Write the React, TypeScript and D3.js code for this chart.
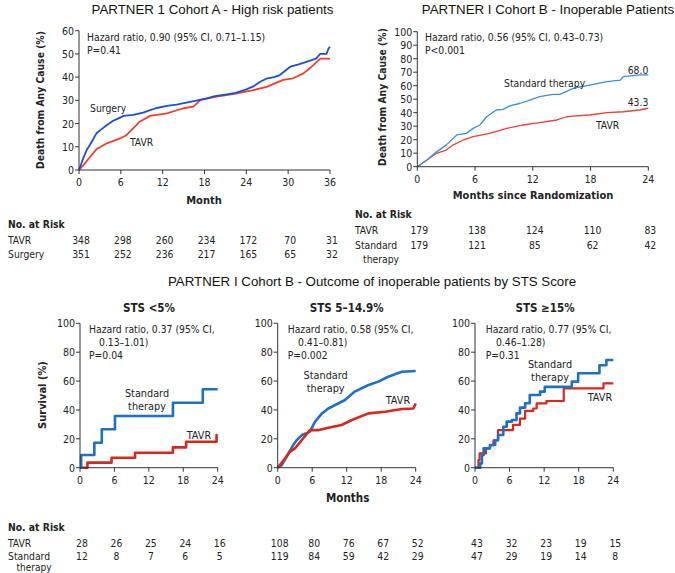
import React from 'react';
import * as d3 from 'd3';

const W = 675, H = 573;
const NARROW = "'DejaVu Sans Condensed','Liberation Sans Narrow',sans-serif";
const ARIAL = "'Liberation Sans',Arial,sans-serif";
const BODY = 10.3;

// ---------- Cohort A (high risk) ----------
const aSurgT = [0,0.3,0.6,1.1,1.6,2.5,3.2,4,4.9,5.5,6.4,7.8,9.2,10.2,11,12.6,14,15.4,17,18.3,19.5,21.2,22.5,24,25,26,27,28,28.8,30.3,31.5,32.6,34,34.6,35.5,35.8,36];
const aSurgV = [0,2.5,5,8.6,11,15.8,17.5,19.4,21.2,22,23.3,23.7,24.7,25.8,26.6,27.6,28.2,29,30,30.9,31.8,32.6,33.2,34.7,36,38,39.5,40,40.9,44.5,45.5,46.6,48,50,50,52.4,53];
const aTavrT = [0,0.6,1.6,2.5,4,5.9,6.8,7.8,8.7,10.2,12.6,15,16.4,17.4,19.7,22.1,25,27,29.3,30.7,32.2,33.1,34.1,34.6,36];
const aTavrV = [0,2,5.7,8.9,11.5,13.6,15,18,20.8,23.3,24.4,26.6,27.3,30.1,31.6,32.7,34.4,35.9,38.8,39.5,41.6,43.8,46.6,48,48];
const aMonths = [0,6,12,18,24,30,36];
const aYTicks = [0,10,20,30,40,50,60];
const aRiskTavr = [348,298,260,234,172,70,31];
const aRiskSurg = [351,252,236,217,165,65,32];

// ---------- Cohort B (inoperable) ----------
const bStdT = [0,1,2,3,4.1,5.1,5.8,6.5,7.2,8.2,8.9,9.6,10.7,11.7,12.7,14.1,14.8,16.2,17.9,19.7,21.1,21.4,23.1,24];
const bStdV = [0,5,11,16,23.5,24.7,28.4,30.9,37,42,42.5,45,47,49.4,51.9,53.6,53.6,58,60.5,63,64.2,66.7,68,68];
const bTavrT = [0,1,2,3,3.7,4.8,5.8,7.5,9.3,11,12.7,14.5,15.5,16.2,17.9,19.7,21.4,23.1,24];
const bTavrV = [0,5,9.9,12.3,16,19.8,22.2,24.7,28.4,30.9,32.6,34.6,37,37.5,38.3,40,40.7,42,43.3];
const bMonths = [0,6,12,18,24];
const bYTicks = [0,10,20,30,40,50,60,70,80,90,100];
const bRiskTavr = [179,138,124,110,83];
const bRiskStd = [179,121,85,62,42];

// ---------- STS groups ----------
const stsMonths = [0,6,12,18,24];
const stsYTicks = [0,20,40,60,80,100];
const lowStdT = [0,0.2,2.5,3.8,6.1,16.2,21.4,24];
const lowStdV = [0,8.8,17.3,26.6,35.8,45,54.3,54.3];
const lowTavrT = [0,1.3,5.5,9.6,16.2,18.5,23.8,24];
const lowTavrV = [0,3.5,6.9,10.4,14.1,18,22.6,22.6];
const midStdT = [0,0.7,1.9,2.7,3.3,4.2,5,5.6,6.5,7.7,8.8,10,11.7,13.4,14.6,15.8,17.5,19.2,21.6,24];
const midStdV = [0,1.8,10,15.7,19,22.6,23.8,25,31.9,37.6,41,43.4,46.9,52.7,55,57.3,59.6,63,66.5,67];
const midTavrT = [0,1.3,2.1,3,4.2,5.6,7,8.8,11.1,12.9,15.8,18.7,21.6,23.6,24];
const midTavrV = [0,6.5,11,13.4,19.2,26,26,27.7,29.6,33,37.6,38.8,40.6,41,44.5];
const highStdT = [0,0.9,1.2,1.5,2.6,3.5,4,4.9,5.5,6.4,7.2,7.8,8.7,9.5,11.3,12.1,16.8,17.9,21.6,22.8,24];
const highStdV = [0,3,8.8,13.4,15.7,19,22.6,28.4,31.9,33,37.6,41.6,44.6,50.3,52.7,56,59.6,65.4,71,74.6,74.6];
const highTavrT = [0,0.6,0.8,1.9,2.6,3.2,4,6.6,7.8,8.7,10.1,10.7,12.4,15.4,22.3,24];
const highTavrV = [0,5.3,9.9,13.4,15.7,19,26,29.6,34,39.3,41,44.6,46.2,55,58.4,58.4];
const lowRiskTavr = [28,26,25,24,16];
const lowRiskStd = [12,8,7,6,5];
const midRiskTavr = [108,80,76,67,52];
const midRiskStd = [119,84,59,42,29];
const highRiskTavr = [43,32,23,19,15];
const highRiskStd = [47,29,19,14,8];

type Series = { t: number[]; v: number[]; color: string; width: number; step?: boolean };

function Panel(props: {
  left: number; right: number; top: number; bottom: number;
  xMax: number; yMax: number; xTicks: number[]; yTicks: number[];
  series: Series[]; fs?: number;
}) {
  const { left, right, top, bottom, xMax, yMax, xTicks, yTicks, series } = props;
  const fs = props.fs ?? 10.5;
  const x = d3.scaleLinear().domain([0, xMax]).range([left, right]);
  const y = d3.scaleLinear().domain([0, yMax]).range([bottom, top]);
  const axisColor = '#333';
  return (
    <g>
      {series.map((s, i) => {
        const line = d3.line<number>().x((_, j) => x(s.t[j])).y((d) => y(d))
          .curve(s.step ? d3.curveStepAfter : d3.curveLinear);
        return <path key={i} d={line(s.v) || ''} fill="none" stroke={s.color} strokeWidth={s.width} strokeLinejoin="round" />;
      })}
      <line x1={left} x2={left} y1={top} y2={bottom} stroke={axisColor} strokeWidth={1} />
      <line x1={left} x2={right} y1={bottom} y2={bottom} stroke={axisColor} strokeWidth={1} />
      {yTicks.map((t) => (
        <g key={'y' + t}>
          <line x1={left - 4} x2={left} y1={y(t)} y2={y(t)} stroke={axisColor} />
          <text x={left - 5} y={y(t)} textAnchor="end" dominantBaseline="central" fontSize={fs} fontFamily={NARROW} fill="#222">{t}</text>
        </g>
      ))}
      {xTicks.map((t) => (
        <g key={'x' + t}>
          <line x1={x(t)} x2={x(t)} y1={bottom} y2={bottom + 4} stroke={axisColor} />
          <text x={x(t)} y={bottom + 12} textAnchor="middle" dominantBaseline="central" fontSize={fs} fontFamily={NARROW} fill="#222">{t}</text>
        </g>
      ))}
    </g>
  );
}

function T(props: { x: number; y: number; children: React.ReactNode; anchor?: string; size?: number; bold?: boolean; family?: string; color?: string; rotate?: boolean }) {
  const { x, y, anchor = 'start', size = BODY, bold = false, family = NARROW, color = '#222', rotate = false } = props;
  return (
    <text x={x} y={y} textAnchor={anchor as any} dominantBaseline="central" fontSize={size}
      fontWeight={bold ? 'bold' : 'normal'} fontFamily={family} fill={color}
      transform={rotate ? `rotate(-90 ${x} ${y})` : undefined}>{props.children}</text>
  );
}

function RiskRow(props: { values: number[]; months: number[]; left: number; right: number; xMax: number; y: number }) {
  const x = d3.scaleLinear().domain([0, props.xMax]).range([props.left, props.right]);
  return (
    <g>
      {props.values.map((v, i) => (
        <T key={i} x={x(props.months[i]) + 2} y={props.y} anchor="middle">{v}</T>
      ))}
    </g>
  );
}

const BLUE_A = '#1d4fd6';
const RED_A = '#f0402c';
const BLUE_B = '#3b8fd6';
const RED_B = '#e8403c';
const BLUE_S = '#1f6fc3';
const RED_S = '#d8281e';
const TITLE = 13.3;

export default function App() {
  const tl = { left: 79, right: 330, top: 30.7, bottom: 170 };
  const tr = { left: 417.3, right: 648.3, top: 31.7, bottom: 166.7 };
  const bTop = 323.3, bBot = 467.7;
  const bl = { left: 80, right: 217.7 };
  const bm = { left: 277.7, right: 415.7 };
  const br = { left: 475, right: 613.3 };
  return (
    <svg width={W} height={H} style={{ position: 'absolute', left: 0, top: 0, background: '#fff' }}>
      <rect x={0} y={0} width={W} height={H} fill="#fff" />
      {/* Titles */}
      <T x={212.5} y={9} anchor="middle" size={TITLE} family={ARIAL} color="#111">PARTNER 1 Cohort A - High risk patients</T>
      <T x={548} y={9} anchor="middle" size={TITLE} family={ARIAL} color="#111">PARTNER I Cohort B - Inoperable Patients</T>
      <T x={372} y={281} anchor="middle" size={TITLE} family={ARIAL} color="#111">PARTNER I Cohort B - Outcome of inoperable patients by STS Score</T>

      {/* Top-left */}
      <Panel {...tl} xMax={36} yMax={60} xTicks={aMonths} yTicks={aYTicks}
        series={[
          { t: aTavrT, v: aTavrV, color: RED_A, width: 1.8 },
          { t: aSurgT, v: aSurgV, color: BLUE_A, width: 1.8 },
        ]} />
      <T x={87} y={37}>Hazard ratio, 0.90 (95% CI, 0.71–1.15)</T>
      <T x={87} y={50}>P=0.41</T>
      <T x={90} y={108}>Surgery</T>
      <T x={130} y={142}>TAVR</T>
      <T x={40} y={100} bold anchor="middle" rotate>Death from Any Cause (%)</T>
      <T x={204} y={200} size={11} bold anchor="middle">Month</T>

      {/* Top-right */}
      <Panel {...tr} xMax={24} yMax={100} xTicks={bMonths} yTicks={bYTicks}
        series={[
          { t: bTavrT, v: bTavrV, color: RED_B, width: 1.3 },
          { t: bStdT, v: bStdV, color: BLUE_B, width: 1.3 },
        ]} />
      <T x={425} y={37}>Hazard ratio, 0.56 (95% CI, 0.43–0.73)</T>
      <T x={425} y={50}>P&lt;0.001</T>
      <T x={504} y={83}>Standard therapy</T>
      <T x={596} y={125}>TAVR</T>
      <T x={638} y={70} anchor="middle">68.0</T>
      <T x={638} y={102} anchor="middle">43.3</T>
      <T x={382} y={97} bold anchor="middle" rotate>Death from Any Cause (%)</T>
      <T x={533} y={195} size={11} bold anchor="middle">Months since Randomization</T>

      {/* Top risk tables */}
      <T x={8} y={224} bold>No. at Risk</T>
      <T x={8} y={240}>TAVR</T>
      <T x={8} y={254}>Surgery</T>
      <RiskRow values={aRiskTavr} months={aMonths} left={tl.left} right={tl.right} xMax={36} y={240} />
      <RiskRow values={aRiskSurg} months={aMonths} left={tl.left} right={tl.right} xMax={36} y={254} />

      <T x={355} y={214} bold>No. at Risk</T>
      <T x={355} y={229.5}>TAVR</T>
      <T x={355} y={244.6}>Standard</T>
      <T x={363} y={259}>therapy</T>
      <RiskRow values={bRiskTavr} months={bMonths} left={tr.left} right={tr.right} xMax={24} y={229.5} />
      <RiskRow values={bRiskStd} months={bMonths} left={tr.left} right={tr.right} xMax={24} y={244.6} />

      {/* Bottom panels */}
      <Panel {...bl} top={bTop} bottom={bBot} xMax={24} yMax={100} xTicks={stsMonths} yTicks={stsYTicks}
        series={[
          { t: lowTavrT, v: lowTavrV, color: RED_S, width: 2.6, step: true },
          { t: lowStdT, v: lowStdV, color: BLUE_S, width: 2.6, step: true },
        ]} />
      <T x={149} y={308} size={11.5} bold anchor="middle">STS &lt;5%</T>
      <T x={89} y={329}>Hazard ratio, 0.37 (95% CI,</T>
      <T x={99} y={342}>0.13–1.01)</T>
      <T x={89} y={355}>P=0.04</T>
      <T x={147} y={393} anchor="middle" size={10.8}>Standard</T>
      <T x={147} y={406} anchor="middle" size={10.8}>therapy</T>
      <T x={199} y={435} anchor="middle" size={10.8}>TAVR</T>
      <T x={42} y={395} size={11} bold anchor="middle" rotate>Survival (%)</T>

      <Panel {...bm} top={bTop} bottom={bBot} xMax={24} yMax={100} xTicks={stsMonths} yTicks={stsYTicks}
        series={[
          { t: midStdT, v: midStdV, color: BLUE_S, width: 2.6 },
          { t: midTavrT, v: midTavrV, color: RED_S, width: 2.6 },
        ]} />
      <T x={346.7} y={308} size={11.5} bold anchor="middle">STS 5–14.9%</T>
      <T x={287.7} y={329}>Hazard ratio, 0.58 (95% CI,</T>
      <T x={298} y={342}>0.41–0.81)</T>
      <T x={287.7} y={355}>P=0.002</T>
      <T x={325.7} y={375} anchor="middle" size={10.8}>Standard</T>
      <T x={325.7} y={388} anchor="middle" size={10.8}>therapy</T>
      <T x={398} y={400} anchor="middle" size={10.8}>TAVR</T>
      <T x={347.7} y={498} size={11.5} bold anchor="middle">Months</T>

      <Panel {...br} top={bTop} bottom={bBot} xMax={24} yMax={100} xTicks={stsMonths} yTicks={stsYTicks}
        series={[
          { t: highTavrT, v: highTavrV, color: RED_S, width: 2.2, step: true },
          { t: highStdT, v: highStdV, color: BLUE_S, width: 2.6, step: true },
        ]} />
      <T x={545} y={308} size={11.5} bold anchor="middle">STS ≥15%</T>
      <T x={485.7} y={329}>Hazard ratio, 0.77 (95% CI,</T>
      <T x={496} y={342}>0.46–1.28)</T>
      <T x={485.7} y={355}>P=0.31</T>
      <T x={550} y={364} anchor="middle" size={10.8}>Standard</T>
      <T x={550} y={377} anchor="middle" size={10.8}>therapy</T>
      <T x={600} y={397} anchor="middle" size={10.8}>TAVR</T>

      {/* Bottom risk table */}
      <T x={8} y={527} bold>No. at Risk</T>
      <T x={8} y={543}>TAVR</T>
      <T x={8} y={555.5}>Standard</T>
      <T x={16.5} y={567.5} size={10}>therapy</T>
      <RiskRow values={lowRiskTavr} months={stsMonths} left={bl.left} right={bl.right} xMax={24} y={543} />
      <RiskRow values={lowRiskStd} months={stsMonths} left={bl.left} right={bl.right} xMax={24} y={555.5} />
      <RiskRow values={midRiskTavr} months={stsMonths} left={bm.left} right={bm.right} xMax={24} y={543} />
      <RiskRow values={midRiskStd} months={stsMonths} left={bm.left} right={bm.right} xMax={24} y={555.5} />
      <RiskRow values={highRiskTavr} months={stsMonths} left={br.left} right={br.right} xMax={24} y={543} />
      <RiskRow values={highRiskStd} months={stsMonths} left={br.left} right={br.right} xMax={24} y={555.5} />
    </svg>
  );
}
